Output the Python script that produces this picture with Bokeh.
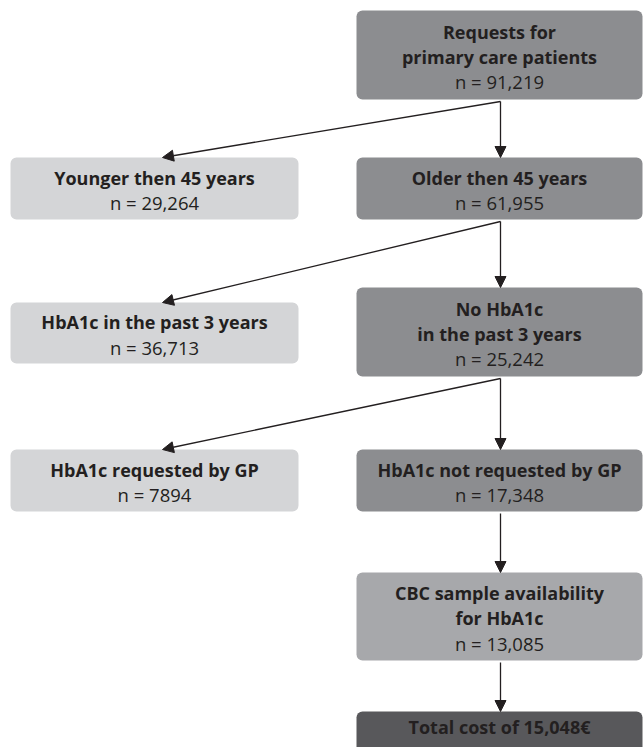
from bokeh.plotting import figure
from bokeh.models import ColumnDataSource, Arrow, NormalHead, Range1d
from bokeh.core.properties import value
from bokeh.embed import file_html
from bokeh.resources import INLINE

# ---- data ----
titles = [
    ["Requests for", "primary care patients"],
    ["Younger then 45 years"],
    ["Older then 45 years"],
    ["HbA1c in the past 3 years"],
    ["No HbA1c", "in the past 3 years"],
    ["HbA1c requested by GP"],
    ["HbA1c not requested by GP"],
    ["CBC sample availability", "for HbA1c"],
    ["Total cost of 15,048\u20ac"],
]
counts = [91219, 29264, 61955, 36713, 25242, 7894, 17348, 13085, None]
# edges: (from box, to box)
edges = [(0, 1), (0, 2), (2, 3), (2, 4), (4, 5), (4, 6), (6, 7), (7, 8)]

# ---- layout (page pixels) ----
box_left = [356, 10, 356, 10, 356, 10, 356, 356, 356]
box_right = [642, 298, 642, 298, 642, 298, 642, 642, 642]
box_top = [10, 157, 157, 302, 287, 449, 449, 572, 711]
box_bottom = [99, 219, 219, 363, 376, 511, 511, 660, 760]
box_color = ["#8c8d90", "#d4d5d7", "#8c8d90", "#d4d5d7", "#8c8d90",
             "#d4d5d7", "#8c8d90", "#a7a8ab", "#58585b"]
text_color = "#231f20"
LINE = 25
TEXT_FONT = "Open Sans"
FS_TITLE = "18px"
FS_N = "18.5px"
W, H = 643, 747


def fmt(c):
    return f"{c:,}" if c >= 10000 else str(c)


p = figure(width=W, height=H, x_range=Range1d(0, W), y_range=Range1d(H, 0),
           output_backend="svg", toolbar_location=None, min_border=0,
           outline_line_color=None, background_fill_color="white")
p.axis.visible = False
p.grid.visible = False

src = ColumnDataSource(dict(left=box_left, right=box_right, top=box_top,
                            bottom=box_bottom, color=box_color))
p.quad(left="left", right="right", top="top", bottom="bottom", fill_color="color",
       line_color=None, border_radius=6, source=src)

# text
bx, by, bt = [], [], []
nx, ny, nt = [], [], []
for i, lines in enumerate(titles):
    cx = (box_left[i] + box_right[i]) / 2
    if counts[i] is not None:
        cy = (box_top[i] + box_bottom[i]) / 2 + 1.5
    else:
        cy = 726
    all_lines = list(lines) + ([f"n = {fmt(counts[i])}"] if counts[i] is not None else [])
    k = len(all_lines)
    for j, ln in enumerate(all_lines):
        yy = cy + (j - (k - 1) / 2) * LINE
        if j < len(lines):
            bx.append(cx); by.append(yy); bt.append(ln)
        else:
            nx.append(cx); ny.append(yy); nt.append(ln)

p.text(x=bx, y=by, text=bt, text_font=value(TEXT_FONT), text_font_style="bold",
       text_font_size=FS_TITLE, text_align="center", text_baseline="middle",
       text_color=text_color)
p.text(x=nx, y=ny, text=nt, text_font=value(TEXT_FONT), text_font_style="normal",
       text_font_size=FS_N, text_align="center", text_baseline="middle",
       text_color=text_color)

# arrows
xs, ys, xe, ye = [], [], [], []
for a, b in edges:
    x0 = (box_left[a] + box_right[a]) / 2 + 1
    y0 = box_bottom[a] + 2
    if box_left[b] == box_left[a]:
        x1 = x0
    else:
        x1 = (box_left[b] + box_right[b]) / 2 + 8
    y1 = box_top[b]
    xs.append(x0); ys.append(y0); xe.append(x1); ye.append(y1)

asrc = ColumnDataSource(dict(xs=xs, ys=ys, xe=xe, ye=ye))
p.add_layout(Arrow(x_start="xs", y_start="ys", x_end="xe", y_end="ye", source=asrc,
                   line_color="#231f20", line_width=1.3,
                   end=NormalHead(size=11, fill_color="#231f20", line_color="#231f20",
                                  line_width=1)))

open("out.html", "w").write(file_html(p, INLINE))
